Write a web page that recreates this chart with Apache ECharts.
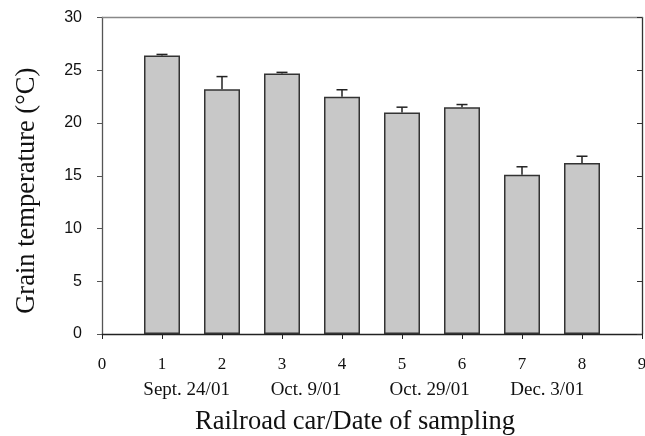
<!DOCTYPE html>
<html>
<head>
<meta charset="utf-8">
<script src="https://cdn.jsdelivr.net/npm/echarts@6/dist/echarts.min.js"></script>
<style>
html,body{margin:0;padding:0;background:#fff;}
#chart{width:645px;height:436px;}
</style>
</head>
<body>
<div id="chart"></div>
<script>
// ---- data ----
const cars = [1, 2, 3, 4, 5, 6, 7, 8];
const temps = [26.4, 23.2, 24.7, 22.5, 21.0, 21.5, 15.1, 16.2];
const errors = [0.1, 1.2, 0.1, 0.65, 0.5, 0.25, 0.75, 0.65];
const yTicks = [0, 5, 10, 15, 20, 25, 30];
const xTicks = [0, 1, 2, 3, 4, 5, 6, 7, 8, 9];
const dates = ['Sept. 24/01', 'Oct. 9/01', 'Oct. 29/01', 'Dec. 3/01'];

// ---- layout (not data) ----
const dateAnchors = [1.41, 3.40, 5.46, 7.42];
const serif = '"Liberation Serif", "Times New Roman", serif';
const sans = '"Liberation Sans", Arial, sans-serif';

const barData = cars.map((c, i) => [c, temps[i]]);
const errData = cars.map((c, i) => [c, temps[i], errors[i]]);

const chart = echarts.init(document.getElementById('chart'), null, {renderer: 'canvas'});
chart.setOption({
  animation: false,
  backgroundColor: '#fff',
  grid: {left: 102, right: 3, top: 17.5, bottom: 102, containLabel: false, outerBoundsMode: 'none'},
  xAxis: [
    {
      type: 'value', min: xTicks[0], max: xTicks[xTicks.length - 1], interval: 1,
      position: 'bottom',
      axisLine: {show: true, onZero: false, lineStyle: {color: '#222', width: 1.3}},
      axisTick: {show: true, inside: false, length: 5, lineStyle: {color: '#222'}},
      axisLabel: {margin: 22, fontFamily: serif, fontSize: 17, color: '#111'},
      splitLine: {show: false}
    },
    {
      type: 'value', min: xTicks[0], max: xTicks[xTicks.length - 1],
      position: 'bottom',
      axisLine: {show: false, onZero: false},
      axisTick: {show: false},
      splitLine: {show: false},
      axisLabel: {
        show: true, margin: 47, fontFamily: serif, fontSize: 19, color: '#111',
        customValues: dateAnchors,
        formatter: (v) => {
          const i = dateAnchors.findIndex(a => Math.abs(a - v) < 1e-6);
          return i >= 0 ? dates[i] : '';
        }
      },
      name: 'Railroad car/Date of sampling',
      nameLocation: 'middle', nameGap: 75,
      nameTextStyle: {fontFamily: serif, fontSize: 26.5, color: '#111', padding: [0, 34, 0, 0]}
    },
    {
      type: 'value', min: 0, max: 9, position: 'top',
      axisLine: {show: true, onZero: false, lineStyle: {color: '#888', width: 1.3}},
      axisTick: {show: false}, axisLabel: {show: false}, splitLine: {show: false}
    }
  ],
  yAxis: [
    {
      type: 'value', min: yTicks[0], max: yTicks[yTicks.length - 1], interval: 5,
      position: 'left',
      axisLine: {show: true, onZero: false, lineStyle: {color: '#555', width: 1.3}},
      axisTick: {show: true, inside: false, length: 5, lineStyle: {color: '#555'}},
      axisLabel: {margin: 20, fontFamily: sans, fontSize: 16, color: '#111'},
      splitLine: {show: false},
      name: 'Grain temperature (\u00B0C)',
      nameLocation: 'middle', nameGap: 61, nameRotate: 90,
      nameTextStyle: {fontFamily: serif, fontSize: 26.5, color: '#111', padding: [0, 30, 0, 0]}
    },
    {
      type: 'value', min: 0, max: 30, interval: 5, position: 'right',
      axisLine: {show: true, onZero: false, lineStyle: {color: '#333', width: 1.3}},
      axisTick: {show: true, inside: true, length: 5, lineStyle: {color: '#333'}},
      axisLabel: {show: false}, splitLine: {show: false}
    }
  ],
  series: [
    {
      type: 'bar', xAxisIndex: 0, yAxisIndex: 0,
      data: barData, barWidth: 36,
      itemStyle: {color: '#c8c8c8', borderColor: '#333', borderWidth: 1.5}
    },
    {
      type: 'custom', xAxisIndex: 0, yAxisIndex: 0,
      data: errData,
      z: 5,
      renderItem: function (params, api) {
        const x = api.value(0), y = api.value(1), e = api.value(2);
        const base = api.coord([x, y]);
        const top = api.coord([x, y + e]);
        const hw = 5.5;
        const st = {stroke: '#222', lineWidth: 1.5};
        return {
          type: 'group',
          children: [
            {type: 'line', shape: {x1: base[0], y1: base[1], x2: top[0], y2: top[1]}, style: st},
            {type: 'line', shape: {x1: top[0] - hw, y1: top[1], x2: top[0] + hw, y2: top[1]}, style: st}
          ]
        };
      }
    }
  ]
});
</script>
</body>
</html>
